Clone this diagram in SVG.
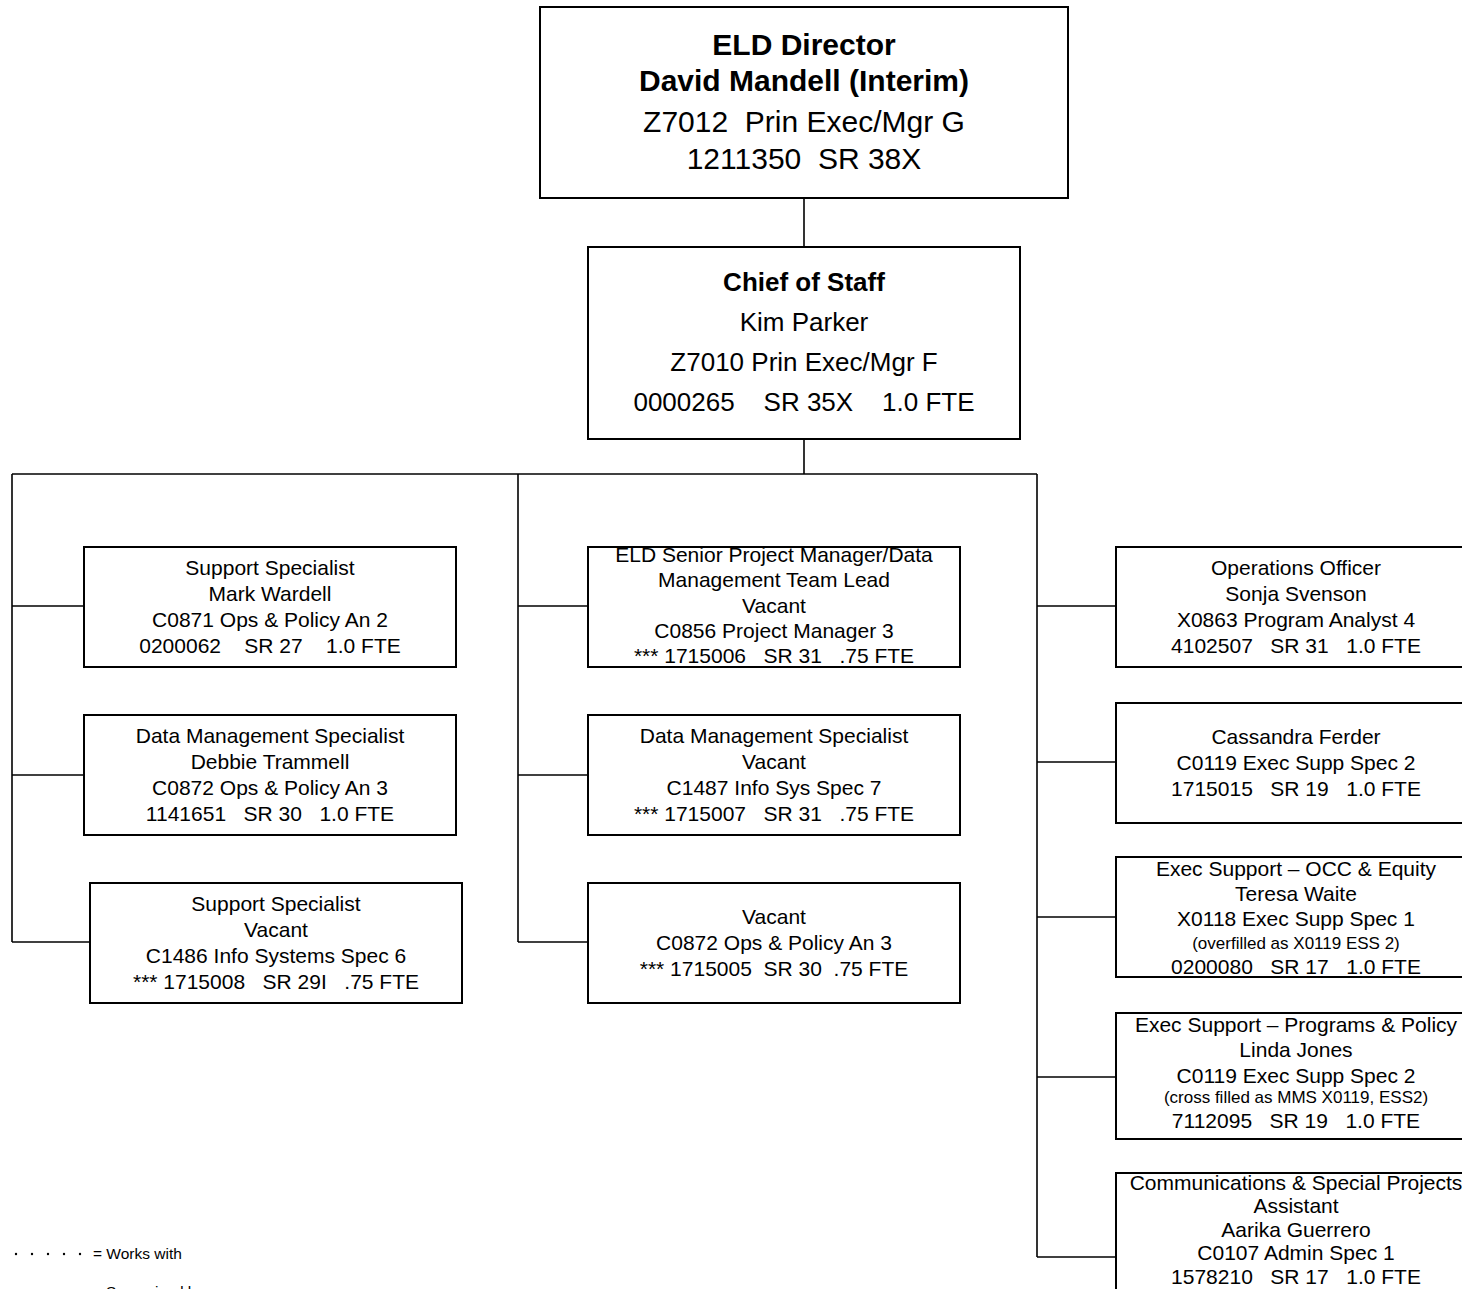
<svg xmlns="http://www.w3.org/2000/svg" width="1462" height="1289" viewBox="0 0 1462 1289">
<style>
.box{fill:#fff;stroke:#000;stroke-width:2}
.ln{stroke:#000;stroke-width:1.6;fill:none}
text{font-family:"Liberation Sans",Arial,sans-serif;fill:#000;text-anchor:middle;white-space:pre}
.t{font-size:21px}
.s{font-size:17px}
.h{font-size:30px}
.c{font-size:26px}
.b{font-weight:bold}
.lg{font-size:15.5px;text-anchor:start}
</style>
<rect x="0" y="0" width="1462" height="1289" fill="#fff"/>
<g id="connectors">
<line class="ln" x1="804" y1="198" x2="804" y2="247"/>
<line class="ln" x1="804" y1="439" x2="804" y2="474"/>
<line class="ln" x1="12" y1="474" x2="1037" y2="474"/>
<line class="ln" x1="12" y1="474" x2="12" y2="942"/>
<line class="ln" x1="518" y1="474" x2="518" y2="942"/>
<line class="ln" x1="1037" y1="474" x2="1037" y2="1257"/>
<line class="ln" x1="12" y1="606" x2="84" y2="606"/>
<line class="ln" x1="12" y1="775" x2="84" y2="775"/>
<line class="ln" x1="12" y1="942" x2="90" y2="942"/>
<line class="ln" x1="518" y1="606" x2="588" y2="606"/>
<line class="ln" x1="518" y1="775" x2="588" y2="775"/>
<line class="ln" x1="518" y1="942" x2="588" y2="942"/>
<line class="ln" x1="1037" y1="606" x2="1116" y2="606"/>
<line class="ln" x1="1037" y1="762" x2="1116" y2="762"/>
<line class="ln" x1="1037" y1="917" x2="1116" y2="917"/>
<line class="ln" x1="1037" y1="1077" x2="1116" y2="1077"/>
<line class="ln" x1="1037" y1="1257" x2="1116" y2="1257"/>
</g>
<g id="director">
<rect class="box" x="540" y="7" width="528" height="191"/>
<text class="h b" x="804" y="55">ELD Director</text>
<text class="h b" x="804" y="91">David Mandell (Interim)</text>
<text class="h" x="804" y="132">Z7012  Prin Exec/Mgr G</text>
<text class="h" x="804" y="169">1211350  SR 38X</text>
</g>
<g id="chief-of-staff">
<rect class="box" x="588" y="247" width="432" height="192"/>
<text class="c b" x="804" y="291">Chief of Staff</text>
<text class="c" x="804" y="331">Kim Parker</text>
<text class="c" x="804" y="371">Z7010 Prin Exec/Mgr F</text>
<text class="c" x="804" y="411">0000265    SR 35X    1.0 FTE</text>
</g>
<g id="support-specialist-wardell">
<rect class="box" x="84" y="547" width="372" height="120"/>
<text class="t" x="270" y="575">Support Specialist</text>
<text class="t" x="270" y="601">Mark Wardell</text>
<text class="t" x="270" y="627">C0871 Ops &amp; Policy An 2</text>
<text class="t" x="270" y="653">0200062    SR 27    1.0 FTE</text>
</g>
<g id="data-mgmt-trammell">
<rect class="box" x="84" y="715" width="372" height="120"/>
<text class="t" x="270" y="743">Data Management Specialist</text>
<text class="t" x="270" y="769">Debbie Trammell</text>
<text class="t" x="270" y="795">C0872 Ops &amp; Policy An 3</text>
<text class="t" x="270" y="821">1141651   SR 30   1.0 FTE</text>
</g>
<g id="support-specialist-vacant">
<rect class="box" x="90" y="883" width="372" height="120"/>
<text class="t" x="276" y="911">Support Specialist</text>
<text class="t" x="276" y="937">Vacant</text>
<text class="t" x="276" y="963">C1486 Info Systems Spec 6</text>
<text class="t" x="276" y="989">*** 1715008   SR 29I   .75 FTE</text>
</g>
<g id="senior-project-manager">
<rect class="box" x="588" y="547" width="372" height="120"/>
<text class="t" x="774" y="562">ELD Senior Project Manager/Data</text>
<text class="t" x="774" y="587">Management Team Lead</text>
<text class="t" x="774" y="613">Vacant</text>
<text class="t" x="774" y="638">C0856 Project Manager 3</text>
<text class="t" x="774" y="663">*** 1715006   SR 31   .75 FTE</text>
</g>
<g id="data-mgmt-vacant">
<rect class="box" x="588" y="715" width="372" height="120"/>
<text class="t" x="774" y="743">Data Management Specialist</text>
<text class="t" x="774" y="769">Vacant</text>
<text class="t" x="774" y="795">C1487 Info Sys Spec 7</text>
<text class="t" x="774" y="821">*** 1715007   SR 31   .75 FTE</text>
</g>
<g id="ops-policy-vacant">
<rect class="box" x="588" y="883" width="372" height="120"/>
<text class="t" x="774" y="924">Vacant</text>
<text class="t" x="774" y="950">C0872 Ops &amp; Policy An 3</text>
<text class="t" x="774" y="976">*** 1715005  SR 30  .75 FTE</text>
</g>
<g id="operations-officer">
<rect class="box" x="1116" y="547" width="360" height="120"/>
<text class="t" x="1296" y="575">Operations Officer</text>
<text class="t" x="1296" y="601">Sonja Svenson</text>
<text class="t" x="1296" y="627">X0863 Program Analyst 4</text>
<text class="t" x="1296" y="653">4102507   SR 31   1.0 FTE</text>
</g>
<g id="ferder">
<rect class="box" x="1116" y="703" width="360" height="120"/>
<text class="t" x="1296" y="744">Cassandra Ferder</text>
<text class="t" x="1296" y="770">C0119 Exec Supp Spec 2</text>
<text class="t" x="1296" y="796">1715015   SR 19   1.0 FTE</text>
</g>
<g id="exec-support-occ">
<rect class="box" x="1116" y="857" width="360" height="120"/>
<text class="t" x="1296" y="876">Exec Support – OCC &amp; Equity</text>
<text class="t" x="1296" y="901">Teresa Waite</text>
<text class="t" x="1296" y="926">X0118 Exec Supp Spec 1</text>
<text class="s" x="1296" y="949">(overfilled as X0119 ESS 2)</text>
<text class="t" x="1296" y="974">0200080   SR 17   1.0 FTE</text>
</g>
<g id="exec-support-programs">
<rect class="box" x="1116" y="1013" width="360" height="126"/>
<text class="t" x="1296" y="1032">Exec Support – Programs &amp; Policy</text>
<text class="t" x="1296" y="1057">Linda Jones</text>
<text class="t" x="1296" y="1083">C0119 Exec Supp Spec 2</text>
<text class="s" x="1296" y="1103">(cross filled as MMS X0119, ESS2)</text>
<text class="t" x="1296" y="1128">7112095   SR 19   1.0 FTE</text>
</g>
<g id="communications-assistant">
<rect class="box" x="1116" y="1173" width="360" height="130"/>
<text class="t" x="1296" y="1190">Communications &amp; Special Projects</text>
<text class="t" x="1296" y="1213">Assistant</text>
<text class="t" x="1296" y="1237">Aarika Guerrero</text>
<text class="t" x="1296" y="1260">C0107 Admin Spec 1</text>
<text class="t" x="1296" y="1284">1578210   SR 17   1.0 FTE</text>
</g>
<g id="legend">
<circle cx="16" cy="1254" r="1.2"/>
<circle cx="32" cy="1254" r="1.2"/>
<circle cx="48" cy="1254" r="1.2"/>
<circle cx="64" cy="1254" r="1.2"/>
<circle cx="80" cy="1254" r="1.2"/>
<text class="lg" x="93" y="1259">= Works with</text>
<text class="lg" x="106" y="1297">Supervised by</text>
</g>
</svg>
